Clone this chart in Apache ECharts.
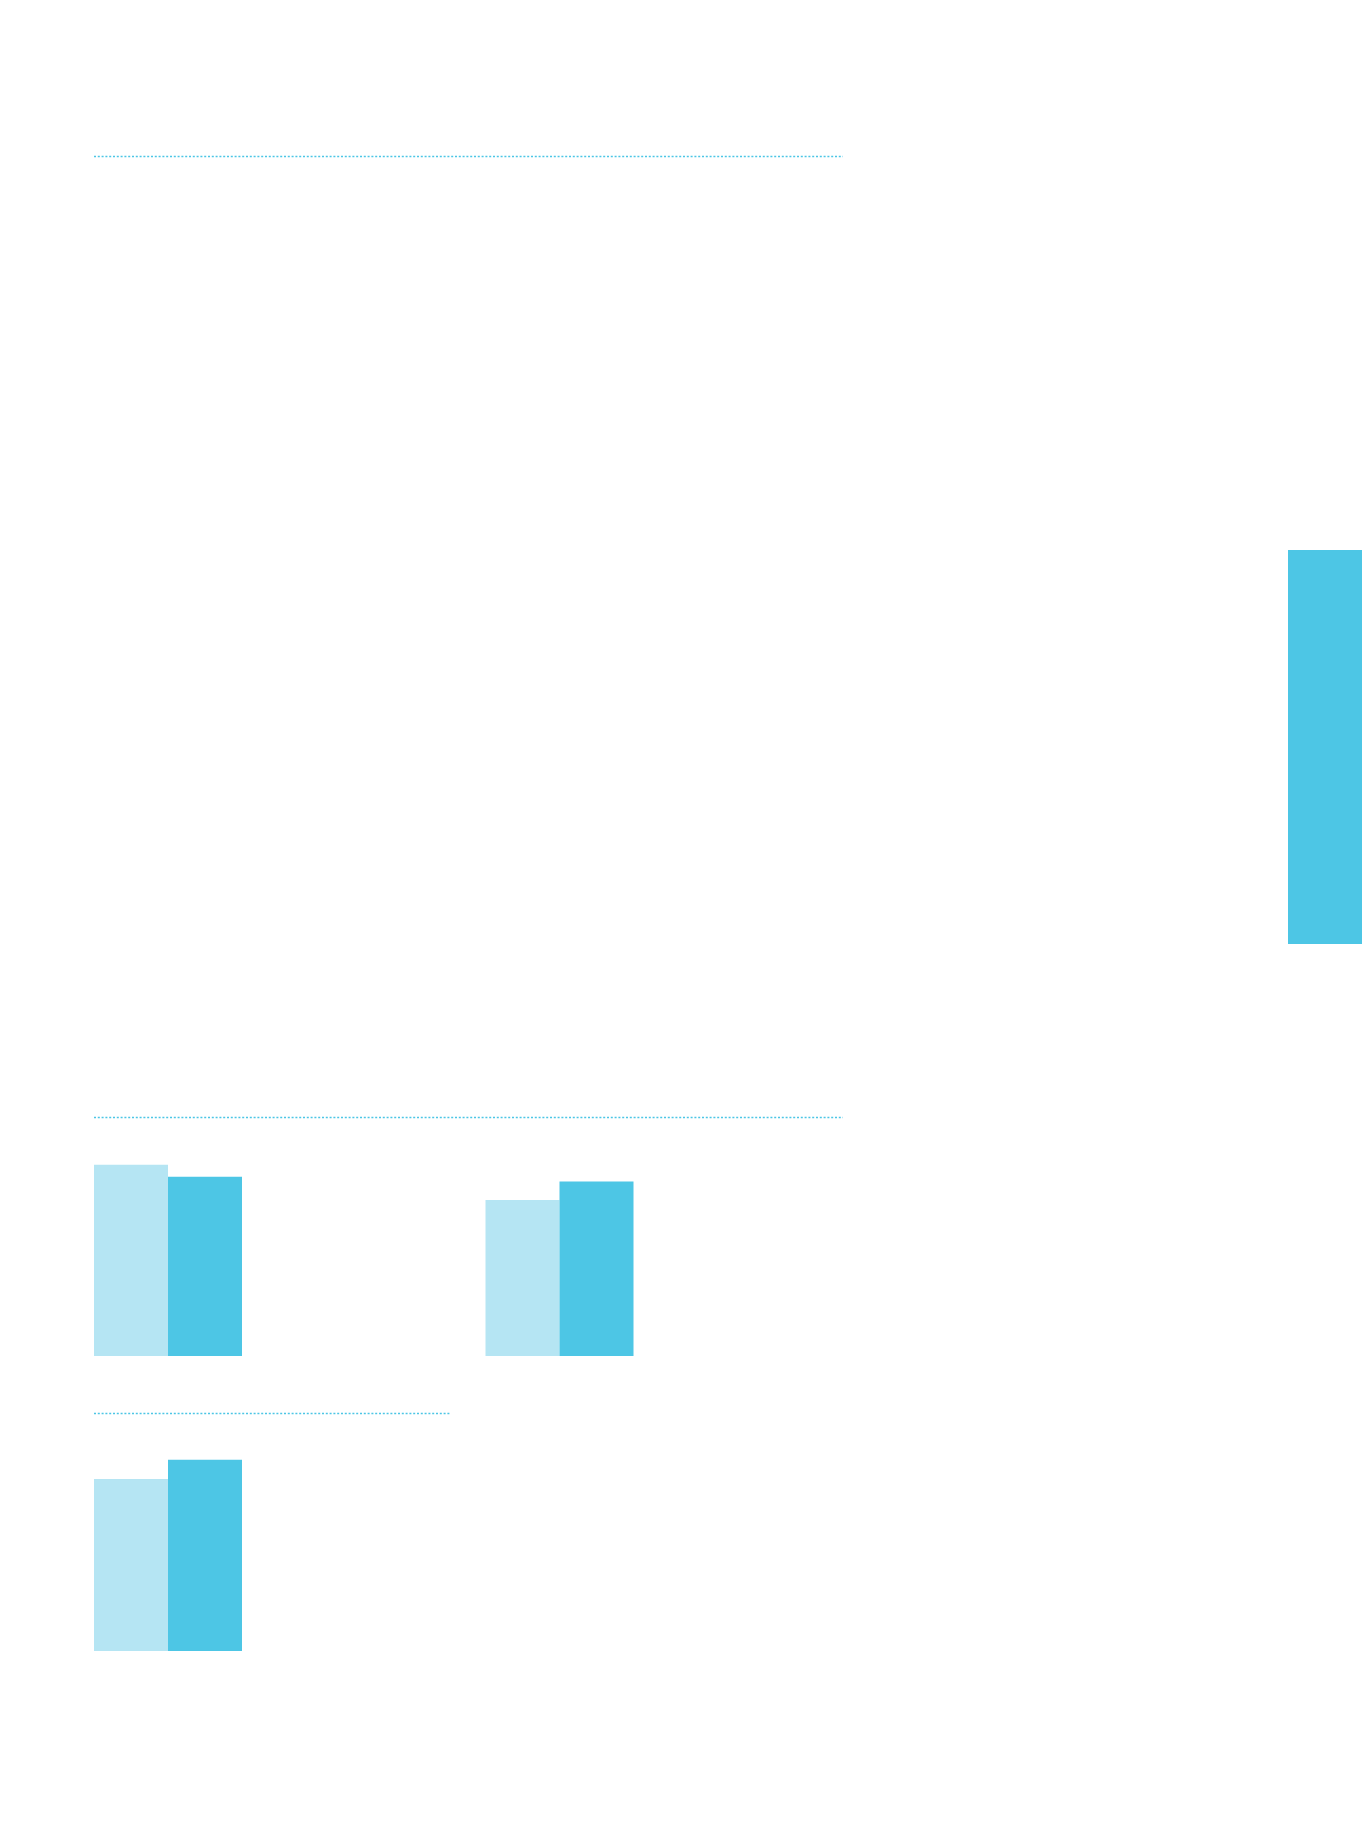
<!DOCTYPE html>
<html>
<head>
<meta charset="utf-8">
<script src="https://cdn.jsdelivr.net/npm/echarts@6/dist/echarts.min.js"></script>
<style>
html,body{margin:0;padding:0;background:#ffffff;}
#c{width:1362px;height:1838px;}
</style>
</head>
<body>
<div id="c"></div>
<script>
// Data (relative scale 0-100)
const panels = ['Panel 1', 'Panel 2', 'Panel 3'];
const lightValues = [80, 65.3, 72];
const darkValues = [75, 73, 80];
const sideTabValues = [100];
const axisMax = 100;

const lightColor = '#B5E5F3';
const darkColor = '#4DC6E5';

const chart = echarts.init(document.getElementById('c'), null, {renderer: 'canvas'});

const gridBoxes = [
  {left: 94, top: 1117, width: 148, height: 239},
  {left: 485, top: 1117, width: 149, height: 239},
  {left: 94, top: 1412, width: 148, height: 239},
  {left: 1288, top: 550, width: 74, height: 394}
];

const grids = gridBoxes.map(b => Object.assign({containLabel: false}, b));
const xAxes = gridBoxes.map((b, i) => ({
  type: 'category', gridIndex: i,
  data: i < 3 ? [panels[i]] : ['tab'],
  show: false
}));
const yAxes = gridBoxes.map((b, i) => ({
  type: 'value', gridIndex: i, min: 0, max: axisMax, show: false
}));

const series = [];
panels.forEach((p, i) => {
  series.push({
    type: 'bar', xAxisIndex: i, yAxisIndex: i,
    data: [lightValues[i]], barWidth: 74, barGap: '0%',
    itemStyle: {color: lightColor}, silent: true
  });
  series.push({
    type: 'bar', xAxisIndex: i, yAxisIndex: i,
    data: [darkValues[i]], barWidth: 74, barGap: '0%',
    itemStyle: {color: darkColor}, silent: true
  });
});
series.push({
  type: 'bar', xAxisIndex: 3, yAxisIndex: 3,
  data: sideTabValues, barWidth: 74,
  itemStyle: {color: darkColor}, silent: true
});

function dotted(x1, x2, y) {
  return {
    type: 'line', silent: true,
    shape: {x1: x1, y1: y, x2: x2, y2: y},
    style: {stroke: darkColor, lineWidth: 1.5, lineDash: [2, 1.8]}
  };
}

chart.setOption({
  animation: false,
  backgroundColor: '#ffffff',
  grid: grids,
  xAxis: xAxes,
  yAxis: yAxes,
  series: series,
  graphic: [
    dotted(94, 843, 156.5),
    dotted(94, 843, 1117.5),
    dotted(94, 451, 1413.5)
  ]
});
</script>
</body>
</html>
